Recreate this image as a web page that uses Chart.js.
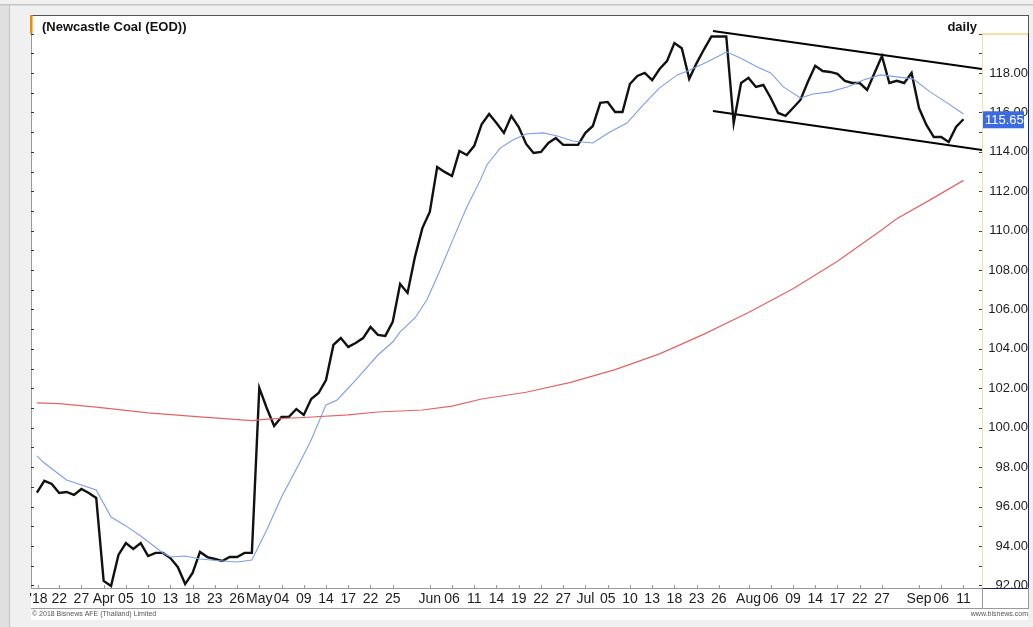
<!DOCTYPE html>
<html>
<head>
<meta charset="utf-8">
<script src="https://cdn.jsdelivr.net/npm/chart.js@4.4.0/dist/chart.umd.min.js"></script>
<style>
  html, body { margin: 0; padding: 0; background: #f0f0f0; }
  #wrap { width: 1033px; height: 627px; }
</style>
</head>
<body>
<div id="wrap"><canvas id="chart" width="1033" height="627"></canvas></div>
<script>
// daily close, one value per trading day (index 0 = Mar 19 2018, 125 = Sep 11 2018)
const closes = [
  96.71, 97.31, 97.15, 96.69, 96.74, 96.59, 96.89, 96.69, 96.44, 92.23,
  91.97, 93.55, 94.15, 93.85, 94.15, 93.49, 93.65, 93.65, 93.39, 92.94,
  92.07, 92.63, 93.70, 93.44, 93.34, 93.24, 93.44, 93.44, 93.65, 93.65,
  102.02, 101.00, 100.09, 100.55, 100.55, 100.95, 100.65, 101.46, 101.76, 102.42,
  104.20, 104.55, 104.10, 104.30, 104.55, 105.11, 104.71, 104.66, 105.37, 107.29,
  106.84, 108.67, 110.13, 110.95, 113.23, 112.98, 112.77, 114.04, 113.84, 114.30,
  115.40, 115.92, 115.46, 114.96, 115.82, 115.26, 114.40, 113.94, 113.99, 114.45,
  114.70, 114.35, 114.35, 114.35, 114.96, 115.31, 116.48, 116.53, 116.02, 116.02,
  117.44, 117.85, 118.00, 117.64, 118.20, 118.60, 119.52, 119.25, 117.70, 118.50,
  119.20, 119.85, 119.85, 119.85, 115.46, 117.49, 117.75, 117.29, 117.39, 116.73,
  115.97, 115.82, 116.22, 116.63, 117.54, 118.36, 118.10, 118.05, 117.95, 117.60,
  117.49, 117.49, 117.14, 118.00, 118.86, 117.49, 117.60, 117.49, 118.00, 116.22,
  115.36, 114.75, 114.75, 114.50, 115.26, 115.65
];

// short moving average (blue)
const maShortDays = [
  0, 1, 4, 8, 10, 12, 14, 17, 18, 20, 22, 25, 27, 29, 31, 33, 35.5, 37, 39, 40.5,
  43, 46, 48, 49, 51, 52.6, 54.4, 56.1, 58, 59.8, 60.7, 62.5, 64.2, 66, 68.3, 70.2,
  72.3, 75, 77.3, 79.6, 81.8, 84, 86.4, 88.1, 90.4, 92.2, 93, 94.9, 97.2, 99,
  100.7, 103, 104.7, 107, 109.3, 111.5, 113.8, 116, 118.2, 120.5, 122.8, 125
];
const maShortValues = [
  98.57, 98.21, 97.35, 96.84, 95.47, 95.02, 94.51, 93.65, 93.44, 93.49, 93.34, 93.24, 93.19, 93.29, 94.81, 96.49, 98.26, 99.38, 101.16, 101.41,
  102.42, 103.69, 104.35, 104.86, 105.57, 106.48, 108.00, 109.53, 111.20, 112.55, 113.33, 114.19, 114.60, 114.90, 114.96, 114.80,
  114.55, 114.45, 115.00, 115.46, 116.38, 117.24, 117.90, 118.15, 118.56, 118.90, 119.07, 118.76, 118.30, 118.00,
  117.29, 116.73, 116.93, 117.04, 117.29, 117.64, 117.90, 117.80, 117.70, 117.04, 116.48, 115.92
];

// long moving average (red)
const maLongDays = [0, 3, 8, 15, 22, 29, 31, 36, 42, 46, 52, 56, 60, 66, 72, 78, 84, 90, 96, 102, 108, 114, 116, 120.5, 125];
const maLongValues = [
  101.26, 101.22, 101.05, 100.75, 100.55, 100.36, 100.44, 100.52, 100.65, 100.80, 100.90, 101.10, 101.46,
  101.80, 102.30, 102.95, 103.75, 104.75, 105.85, 107.05, 108.45, 110.05, 110.60, 111.56, 112.55
];

// hand-drawn falling channel
const channelDays = [91.2, 127.5];
const channelUpper = [120.13, 118.20];
const channelLower = [116.07, 114.09];

// x axis labels (trading day index -> text)
const tickDays = [0.2, 3, 6, 9, 12, 15, 18, 21, 24, 27, 30, 33, 36, 39, 42, 45, 48, 53, 56, 59, 62, 65, 68, 71,
  74, 77, 80, 83, 86, 89, 92, 96, 99, 102, 105, 108, 111, 114, 119, 122, 125];
const tickLabels = ["'18", '22', '27', 'Apr', '05', '10', '13', '18', '23', '26', 'May', '04', '09', '14', '17', '22', '25',
  'Jun', '06', '11', '14', '19', '22', '27', 'Jul', '05', '10', '13', '18', '23', '26', 'Aug', '06', '09', '14', '17',
  '22', '27', 'Sep', '06', '11'];

const yTicks = [92, 94, 96, 98, 100, 102, 104, 106, 108, 110, 112, 114, 116, 118];
const lastClose = 115.65;

const FONT = "'Liberation Sans', Arial, sans-serif";

const toPoints = (xs, ys) => xs.map((x, i) => ({ x: x, y: ys[i] }));

const frame = {
  id: 'frame',
  beforeDraw(chart) {
    const c = chart.ctx;
    c.save();
    c.fillStyle = '#f0f0f0';
    c.fillRect(0, 0, 1033, 627);
    c.fillStyle = '#e0e0e0';
    c.fillRect(0, 5, 10, 622);
    c.fillStyle = '#c4c4c4';
    c.fillRect(0, 4, 1033, 1.5);
    c.fillRect(9, 5, 1, 622);
    c.fillStyle = '#ffffff';
    c.fillRect(31, 15, 997, 605);
    c.restore();
  },
  afterDraw(chart) {
    const c = chart.ctx;
    const y = chart.scales.y;
    const x = chart.scales.x;
    const area = chart.chartArea;
    const top = y.getPixelForValue(120);
    c.save();

    // panel top border
    c.fillStyle = '#555';
    c.fillRect(31, 15, 998, 1);
    c.fillRect(1028, 15, 1, 20);
    // orange marker
    c.fillStyle = '#f08c00';
    c.fillRect(30, 15, 2.5, top - 15);

    // left dotted axis + minor ticks
    c.strokeStyle = '#333';
    c.lineWidth = 1;
    c.setLineDash([1, 1]);
    c.beginPath();
    c.moveTo(31.5, top); c.lineTo(31.5, area.bottom);
    c.stroke();
    c.setLineDash([]);
    for (let v = 92; v <= 120; v++) {
      const py = Math.round(y.getPixelForValue(v)) + 0.5;
      c.beginPath(); c.moveTo(31, py); c.lineTo(34, py); c.stroke();
    }

    // right axis box
    c.strokeStyle = '#e8c34a';
    c.beginPath(); c.moveTo(area.right, top + 0.5); c.lineTo(1028, top + 0.5); c.stroke();
    c.setLineDash([1, 1]);
    c.beginPath(); c.moveTo(area.right + 0.5, top); c.lineTo(area.right + 0.5, area.bottom); c.stroke();
    c.setLineDash([]);
    c.strokeStyle = '#1c2470';
    c.beginPath();
    c.moveTo(1028.5, top); c.lineTo(1028.5, area.bottom + 0.5); c.lineTo(area.right, area.bottom + 0.5);
    c.stroke();
    c.strokeStyle = '#444';
    for (let v = 92; v <= 120; v++) {
      const py = Math.round(y.getPixelForValue(v)) + 0.5;
      c.beginPath(); c.moveTo(area.right - 3, py); c.lineTo(area.right, py); c.stroke();
    }

    // date strip
    c.strokeStyle = '#999';
    c.beginPath();
    c.moveTo(31, area.bottom + 0.5); c.lineTo(area.right, area.bottom + 0.5);
    c.moveTo(31, 608.5); c.lineTo(1029, 608.5);
    c.moveTo(area.right + 0.5, area.bottom); c.lineTo(area.right + 0.5, 608);
    c.moveTo(1028.5, area.bottom); c.lineTo(1028.5, 608);
    c.stroke();
    tickDays.forEach(d => {
      const px = Math.round(x.getPixelForValue(d)) + 0.5;
      c.beginPath(); c.moveTo(px, area.bottom - 3); c.lineTo(px, area.bottom); c.stroke();
    });

    // title and period
    c.fillStyle = '#111';
    c.font = 'bold 13px ' + FONT;
    c.textBaseline = 'middle';
    c.textAlign = 'left';
    c.fillText('(Newcastle Coal (EOD))', 42, 27);
    c.textAlign = 'right';
    c.fillText('daily', 977, 27);

    // last value tag
    const ly = y.getPixelForValue(lastClose);
    c.fillStyle = '#3b6be3';
    c.fillRect(983, ly - 8, 41, 17);
    c.fillStyle = '#ffffff';
    c.font = '13px ' + FONT;
    c.textAlign = 'left';
    c.fillText(lastClose.toFixed(2), 985, ly + 1);

    // footer
    c.fillStyle = '#555';
    c.font = '7px ' + FONT;
    c.textAlign = 'left';
    c.fillText('\u00a9 2018 Bisnews AFE (Thailand) Limited', 32, 614);
    c.textAlign = 'right';
    c.fillText('www.bisnews.com', 1028, 614);
    c.restore();
  }
};

new Chart(document.getElementById('chart'), {
  type: 'line',
  data: {
    datasets: [
      {
        label: 'MA long',
        data: toPoints(maLongDays, maLongValues),
        borderColor: '#e26464',
        borderWidth: 1.2,
        pointRadius: 0
      },
      {
        label: 'MA short',
        data: toPoints(maShortDays, maShortValues),
        borderColor: '#7d9de8',
        borderWidth: 1.1,
        pointRadius: 0
      },
      {
        label: 'Close',
        data: closes.map((v, i) => ({ x: i, y: v })),
        borderColor: '#111111',
        borderWidth: 2.4,
        pointRadius: 0
      },
      {
        label: 'Channel top',
        data: toPoints(channelDays, channelUpper),
        borderColor: '#000000',
        borderWidth: 2,
        pointRadius: 0
      },
      {
        label: 'Channel bottom',
        data: toPoints(channelDays, channelLower),
        borderColor: '#000000',
        borderWidth: 2,
        pointRadius: 0
      }
    ]
  },
  options: {
    responsive: false,
    animation: false,
    devicePixelRatio: 1,
    layout: { padding: { left: 31, top: 15, right: 5, bottom: 19 } },
    plugins: { legend: { display: false }, tooltip: { enabled: false } },
    scales: {
      x: {
        type: 'linear',
        min: -0.8,
        max: 127.5,
        grid: { display: false, drawTicks: false },
        border: { display: false },
        afterBuildTicks: s => { s.ticks = tickDays.map(v => ({ value: v })); },
        afterFit: s => { s.height = 20; },
        ticks: {
          autoSkip: false,
          maxRotation: 0,
          padding: 3,
          color: '#222',
          font: { family: FONT, size: 14 },
          callback: (v, i) => tickLabels[i]
        }
      },
      y: {
        position: 'right',
        min: 91.87,
        max: 120.94,
        grid: { display: false, drawTicks: false },
        border: { display: false },
        afterBuildTicks: s => { s.ticks = yTicks.map(v => ({ value: v })); },
        afterFit: s => { s.width = 46; },
        ticks: {
          crossAlign: 'far',
          padding: 1,
          color: '#222',
          font: { family: FONT, size: 13 },
          callback: v => v.toFixed(2)
        }
      }
    }
  },
  plugins: [frame]
});
</script>
</body>
</html>
